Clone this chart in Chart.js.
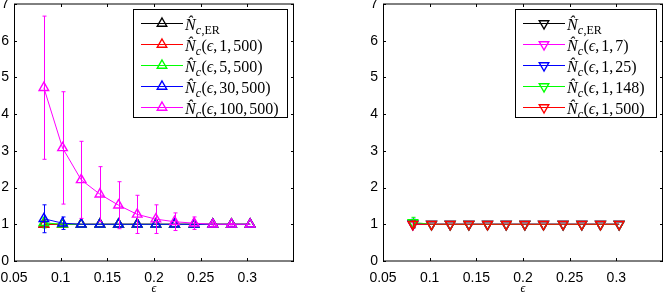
<!DOCTYPE html>
<html>
<head>
<meta charset="utf-8">
<script src="https://cdn.jsdelivr.net/npm/chart.js@4/dist/chart.umd.min.js"></script>
<style>
  body { margin: 0; background: #fff; width: 664px; height: 292px; position: relative; overflow: hidden; }
  canvas { position: absolute; top: 0; }
</style>
</head>
<body>
<canvas id="chartLeft" width="300" height="292" style="left:0px"></canvas>
<canvas id="chartRight" width="295" height="292" style="left:369px"></canvas>
<script>
// x values (epsilon) and axis ticks
const epsilon = [0.082, 0.102, 0.122, 0.142, 0.162, 0.182, 0.202, 0.222, 0.243, 0.263, 0.283, 0.303];
const xTicks = [0.05, 0.1, 0.15, 0.2, 0.25, 0.3];
const yTicks = [0, 1, 2, 3, 4, 5, 6, 7];

// left panel: N_c(eps, k, 500)
const leftER      = [1, 1, 1, 1, 1, 1, 1, 1, 1, 1, 1, 1];
const leftK1      = [1, 1, 1, 1, 1, 1, 1, 1, 1, 1, 1, 1];
const leftK1Err   = [0.05, 0, 0, 0, 0, 0, 0, 0, 0, 0, 0, 0];
const leftK5      = [1.04, 1.0, 1, 1, 1, 1, 1, 1, 1, 1, 1, 1];
const leftK5Err   = [0.14, 0.03, 0, 0, 0, 0, 0, 0, 0, 0, 0, 0];
const leftK30     = [1.15, 1.03, 1, 1, 1, 1, 1, 1, 1, 1, 1, 1];
const leftK30Err  = [0.38, 0.17, 0, 0, 0, 0, 0, 0, 0, 0, 0, 0];
const leftK100    = [4.72, 3.08, 2.21, 1.82, 1.52, 1.27, 1.14, 1.07, 1.03, 1.0, 1.0, 1.0];
const leftK100Err = [1.95, 1.53, 1.05, 0.75, 0.64, 0.52, 0.39, 0.24, 0.17, 0.05, 0.02, 0];

// right panel: N_c(eps, 1, n)
const rightER     = [1, 1, 1, 1, 1, 1, 1, 1, 1, 1, 1, 1];
const rightN7     = [1, 1, 1, 1, 1, 1, 1, 1, 1, 1, 1, 1];
const rightN7Err  = [0.04, 0, 0, 0, 0, 0, 0, 0, 0, 0, 0, 0];
const rightN25    = [1.02, 1, 1, 1, 1, 1, 1, 1, 1, 1, 1, 1];
const rightN25Err = [0.12, 0, 0, 0, 0, 0, 0, 0, 0, 0, 0, 0];
const rightN148   = [1.05, 1, 1, 1, 1, 1, 1, 1, 1, 1, 1, 1];
const rightN148Err= [0.14, 0, 0, 0, 0, 0, 0, 0, 0, 0, 0, 0];
const rightN500   = [1, 1, 1, 1, 1, 1, 1, 1, 1, 1, 1, 1];
const rightN500Err= [0.09, 0, 0, 0, 0, 0, 0, 0, 0, 0, 0, 0];

const SERIF = '"Liberation Serif", "DejaVu Serif", serif';

function makeDataset(label, values, errors, color, order, rotation) {
    return {
        label: label,
        data: epsilon.map((x, i) => ({ x: x, y: values[i] })),
        errors: errors,
        order: order,
        borderColor: color,
        backgroundColor: 'rgba(0,0,0,0)',
        borderWidth: 1,
        pointStyle: 'triangle',
        pointRotation: rotation,
        pointRadius: 5.5,
        pointBorderWidth: 1.4,
        pointBorderColor: color,
        pointBackgroundColor: 'rgba(0,0,0,0)',
        tension: 0
    };
}

// error bars drawn right after each series, so they stack like the lines
const errorBars = {
    id: 'errorBars',
    afterDatasetDraw(chart, args) {
        const ds = chart.data.datasets[args.index];
        if (!ds.errors) return;
        const y = chart.scales.y;
        const ctx = chart.ctx;
        ctx.save();
        ctx.strokeStyle = ds.borderColor;
        ctx.lineWidth = 1;
        args.meta.data.forEach((pt, i) => {
            const e = ds.errors[i];
            if (!e) return;
            const v = ds.data[i].y;
            const top = y.getPixelForValue(v + e);
            const bot = y.getPixelForValue(v - e);
            const x = Math.round(pt.x) + 0.5;
            ctx.beginPath();
            ctx.moveTo(x, top); ctx.lineTo(x, bot);
            ctx.moveTo(x - 2, top); ctx.lineTo(x + 2, top);
            ctx.moveTo(x - 2, bot); ctx.lineTo(x + 2, bot);
            ctx.stroke();
        });
        ctx.restore();
    }
};

// matlab style box with inward ticks
const axesBox = {
    id: 'axesBox',
    afterDatasetsDraw(chart) {
        const a = chart.chartArea;
        const ctx = chart.ctx;
        const xs = chart.scales.x, ys = chart.scales.y;
        ctx.save();
        ctx.strokeStyle = '#000';
        ctx.lineWidth = 1;
        ctx.beginPath();
        ctx.moveTo(a.left + 0.5, a.top); ctx.lineTo(a.left + 0.5, a.bottom);
        ctx.moveTo(a.right - 0.5, a.top); ctx.lineTo(a.right - 0.5, a.bottom);
        ctx.moveTo(a.left, a.top); ctx.lineTo(a.right, a.top);
        ctx.moveTo(a.left, a.bottom); ctx.lineTo(a.right, a.bottom);
        xTicks.forEach(v => {
            const px = Math.round(xs.getPixelForValue(v)) + 0.5;
            ctx.moveTo(px, a.bottom); ctx.lineTo(px, a.bottom - 3);
            ctx.moveTo(px, a.top); ctx.lineTo(px, a.top + 3);
        });
        yTicks.forEach(v => {
            const py = Math.round(ys.getPixelForValue(v)) + 0.5;
            ctx.moveTo(a.left, py); ctx.lineTo(a.left + 3, py);
            ctx.moveTo(a.right, py); ctx.lineTo(a.right - 3, py);
        });
        ctx.stroke();
        ctx.restore();
    }
};

// boxed legend with N-hat math labels; parts are [text, font, baseline shift, gap after]
function labelParts(ds) {
    const it = 'italic 16px ' + SERIF, rm = '16px ' + SERIF;
    const subIt = 'italic 12px ' + SERIF, subRm = '12px ' + SERIF;
    const parts = [['N\u0302', it, 0, 0], ['c', subIt, 4, 0.5]];
    if (ds.args.length === 0) {
        parts.push([',ER', subRm, 4, 0]);
        return parts;
    }
    parts.push(['(', rm, 0, 0]);
    parts.push(['\u03f5', it, 0, 0]);
    ds.args.forEach(a => {
        parts.push([',', rm, 0, 2]);
        parts.push([a, rm, 0, 0]);
    });
    parts.push([')', rm, 0, 0]);
    return parts;
}

const boxLegend = {
    id: 'boxLegend',
    afterDraw(chart, args, opts) {
        const a = chart.chartArea;
        const ctx = chart.ctx;
        const left = a.right - opts.inset - opts.width;
        const top = a.top + 5;
        const rows = chart.data.datasets;
        const height = 109;
        ctx.save();
        ctx.fillStyle = '#fff';
        ctx.fillRect(left, top, opts.width, height);
        ctx.strokeStyle = '#000';
        ctx.lineWidth = 1;
        ctx.strokeRect(left + 0.5, top + 0.5, opts.width - 1, height - 1);
        rows.forEach((ds, i) => {
            const y = Math.round(top + 14 + i * 21) + 0.5;
            ctx.strokeStyle = ds.borderColor;
            ctx.lineWidth = 1;
            ctx.beginPath();
            ctx.moveTo(left + 8, y); ctx.lineTo(left + 50, y);
            ctx.stroke();
            // triangle marker like chart.js point
            const r = 5.5, cx = left + 29;
            let rad = ds.pointRotation * Math.PI / 180;
            ctx.lineWidth = 1.4;
            ctx.beginPath();
            for (let k = 0; k < 3; k++) {
                const px = cx + Math.sin(rad) * r, py = y - Math.cos(rad) * r;
                if (k === 0) ctx.moveTo(px, py); else ctx.lineTo(px, py);
                rad += 2 * Math.PI / 3;
            }
            ctx.closePath();
            ctx.stroke();
            // text
            let tx = left + 52;
            ctx.fillStyle = '#000';
            ctx.textBaseline = 'alphabetic';
            labelParts(ds).forEach(p => {
                ctx.font = p[1];
                ctx.fillText(p[0], tx, y + 6 + p[2]);
                tx += ctx.measureText(p[0]).width + p[3];
            });
        });
        ctx.restore();
    }
};

// labels may overflow the plot box like in matlab, so drop the padding chart.js reserves for them
function noLabelPadding(s) {
    s.paddingTop = 0;
    s.paddingBottom = 0;
    s.paddingLeft = 0;
    s.paddingRight = 0;
}

function makeChart(canvasId, datasets, legendWidth, padRight) {
    return new Chart(document.getElementById(canvasId), {
        type: 'line',
        data: { datasets: datasets },
        options: {
            responsive: false,
            animation: false,
            events: [],
            layout: { autoPadding: false, padding: { top: 4, right: padRight, left: 0, bottom: 0 } },
            scales: {
                x: {
                    type: 'linear',
                    min: 0.05,
                    max: 0.35,
                    afterBuildTicks: s => { s.ticks = xTicks.map(v => ({ value: v })); },
                    afterFit: s => { s.height = 31; noLabelPadding(s); },
                    grid: { display: false, drawTicks: false },
                    border: { display: false },
                    ticks: {
                        padding: 9,
                        maxRotation: 0,
                        autoSkip: false,
                        color: '#000',
                        font: { family: '"Liberation Sans", Arial, sans-serif', size: 14 },
                        callback: v => String(+v.toFixed(2))
                    },
                    title: {
                        display: true,
                        text: '\u03f5',
                        color: '#000',
                        padding: { top: 0, bottom: -4 },
                        font: { family: SERIF, style: 'italic', size: 12 }
                    }
                },
                y: {
                    min: 0,
                    max: 7,
                    afterBuildTicks: s => { s.ticks = yTicks.map(v => ({ value: v })); },
                    afterFit: s => { s.width = 14; noLabelPadding(s); },
                    grid: { display: false, drawTicks: false },
                    border: { display: false },
                    ticks: {
                        padding: 5,
                        color: '#000',
                        font: { family: '"Liberation Sans", Arial, sans-serif', size: 14 }
                    }
                }
            },
            plugins: {
                legend: { display: false },
                tooltip: { enabled: false },
                boxLegend: { width: legendWidth, inset: 6 }
            }
        },
        plugins: [errorBars, axesBox, boxLegend]
    });
}

const leftSets = [
    makeDataset('ER', leftER, null, '#000000', 4, 0),
    makeDataset('1,500', leftK1, leftK1Err, '#ff0000', 3, 0),
    makeDataset('5,500', leftK5, leftK5Err, '#00ff00', 2, 0),
    makeDataset('30,500', leftK30, leftK30Err, '#0000ff', 1, 0),
    makeDataset('100,500', leftK100, leftK100Err, '#ff00ff', 0, 0)
];
leftSets[0].args = [];
leftSets[1].args = ['1', '500'];
leftSets[2].args = ['5', '500'];
leftSets[3].args = ['30', '500'];
leftSets[4].args = ['100', '500'];

const rightSets = [
    makeDataset('ER', rightER, null, '#000000', 4, 180),
    makeDataset('1,7', rightN7, rightN7Err, '#ff00ff', 3, 180),
    makeDataset('1,25', rightN25, rightN25Err, '#0000ff', 2, 180),
    makeDataset('1,148', rightN148, rightN148Err, '#00ff00', 1, 180),
    makeDataset('1,500', rightN500, rightN500Err, '#ff0000', 0, 180)
];
rightSets[0].args = [];
rightSets[1].args = ['1', '7'];
rightSets[2].args = ['1', '25'];
rightSets[3].args = ['1', '148'];
rightSets[4].args = ['1', '500'];

makeChart('chartLeft', leftSets, 155, 6);
makeChart('chartRight', rightSets, 142, 1);
</script>
</body>
</html>
